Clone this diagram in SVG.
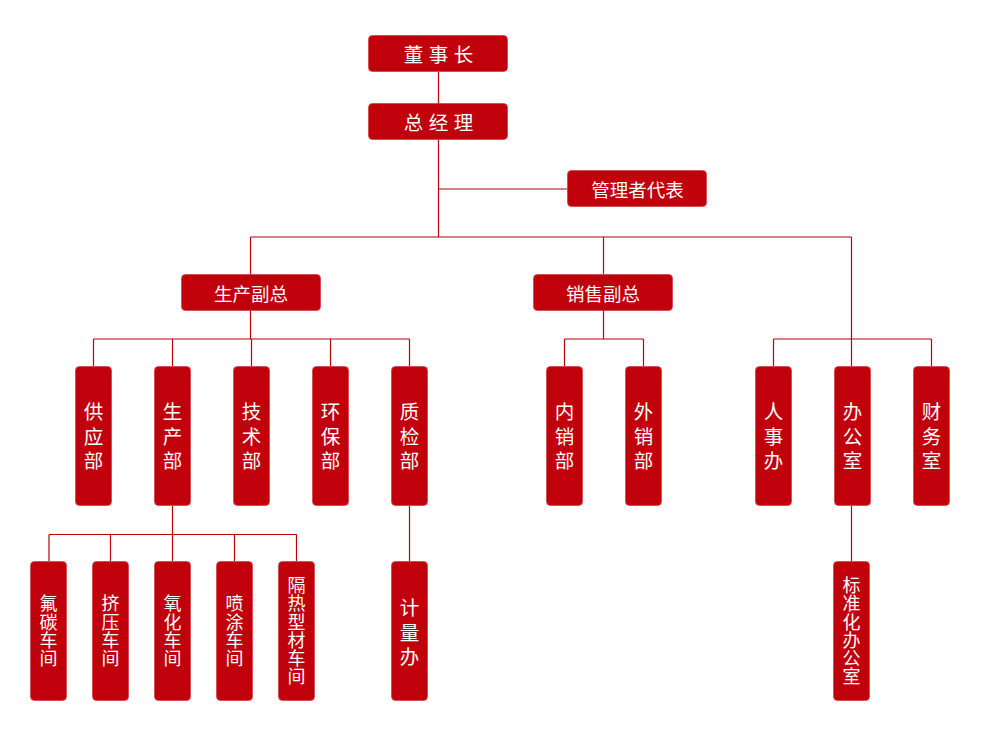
<svg xmlns="http://www.w3.org/2000/svg" width="1000" height="751" viewBox="0 0 1000 751">
<style>
.box{fill:#C0000A;stroke:#D2424B;stroke-width:0.8}
.ln{fill:none;stroke:#B8000F;stroke-width:1.2}
.t{fill:#fff;font-family:"Microsoft YaHei","Noto Sans CJK SC",sans-serif;text-anchor:middle;dominant-baseline:central}
.h{font-size:18.5px}
.top{font-size:19.5px;letter-spacing:5.5px}
.v{font-size:19.5px;letter-spacing:5px;writing-mode:vertical-rl}
.s{font-size:18px;letter-spacing:0.3px;writing-mode:vertical-rl}
</style>
<rect width="1000" height="751" fill="#fff"/>
<g id="connectors" class="ln">
<path d="M438.5 72V237M438.5 189H567M250.5 237H851.5M250.5 237V274M603.5 237V274M851.5 237V366"/>
<path d="M250.5 310V339M93.5 339H409.5M93.5 339V366M172.5 339V366M251.5 339V366M330.5 339V366M409.5 339V366"/>
<path d="M603.5 310V339M564.5 339H643.5M564.5 339V366M643.5 339V366"/>
<path d="M773.5 339H931.5M773.5 339V366M931.5 339V366"/>
<path d="M172.5 506V561M49 534.5H296.5M49 534.5V561M110.5 534.5V561M234.5 534.5V561M296.5 534.5V561"/>
<path d="M409.5 506V561M851.5 506V561"/>
</g>
<g id="n-dsz"><rect class="box" x="368.5" y="35.5" width="139" height="36" rx="4"/><text class="t top" x="441.25" y="53.5">董事长</text></g>
<g id="n-zjl"><rect class="box" x="368.5" y="103.5" width="139" height="36" rx="4"/><text class="t top" x="441.25" y="121.5">总经理</text></g>
<g id="n-glzdb"><rect class="box" x="567.5" y="170.5" width="139" height="36" rx="4"/><text class="t h" x="637.5" y="188.5">管理者代表</text></g>
<g id="n-scfz"><rect class="box" x="181.5" y="274.5" width="139" height="36" rx="4"/><text class="t h" x="251" y="292.5">生产副总</text></g>
<g id="n-xsfz"><rect class="box" x="533.5" y="274.5" width="139" height="36" rx="4"/><text class="t h" x="603" y="292.5">销售副总</text></g>

<g id="n-gyb"><rect class="box" x="75.5" y="366.5" width="36" height="139" rx="4"/><text class="t v" x="93.5" y="439">供应部</text></g>
<g id="n-scb"><rect class="box" x="154.5" y="366.5" width="36" height="139" rx="4"/><text class="t v" x="172.5" y="439">生产部</text></g>
<g id="n-jsb"><rect class="box" x="233.5" y="366.5" width="36" height="139" rx="4"/><text class="t v" x="251.5" y="439">技术部</text></g>
<g id="n-hbb"><rect class="box" x="312.5" y="366.5" width="36" height="139" rx="4"/><text class="t v" x="330.5" y="439">环保部</text></g>
<g id="n-zjb"><rect class="box" x="391.5" y="366.5" width="36" height="139" rx="4"/><text class="t v" x="409.5" y="439">质检部</text></g>
<g id="n-nxb"><rect class="box" x="546.5" y="366.5" width="36" height="139" rx="4"/><text class="t v" x="564.5" y="439">内销部</text></g>
<g id="n-wxb"><rect class="box" x="625.5" y="366.5" width="36" height="139" rx="4"/><text class="t v" x="643.5" y="439">外销部</text></g>
<g id="n-rsb"><rect class="box" x="755.5" y="366.5" width="36" height="139" rx="4"/><text class="t v" x="773.5" y="439">人事办</text></g>
<g id="n-bgs"><rect class="box" x="834.5" y="366.5" width="36" height="139" rx="4"/><text class="t v" x="852.5" y="439">办公室</text></g>
<g id="n-cws"><rect class="box" x="913.5" y="366.5" width="36" height="139" rx="4"/><text class="t v" x="931.5" y="439">财务室</text></g>

<g id="n-ftcj"><rect class="box" x="30.5" y="561.5" width="36" height="139" rx="4"/><text class="t s" x="48.5" y="631">氟碳车间</text></g>
<g id="n-jycj"><rect class="box" x="92.5" y="561.5" width="36" height="139" rx="4"/><text class="t s" x="110.5" y="631">挤压车间</text></g>
<g id="n-yhcj"><rect class="box" x="154.5" y="561.5" width="36" height="139" rx="4"/><text class="t s" x="172.5" y="631">氧化车间</text></g>
<g id="n-ptcj"><rect class="box" x="216.5" y="561.5" width="36" height="139" rx="4"/><text class="t s" x="234.5" y="631">喷涂车间</text></g>
<g id="n-grxc"><rect class="box" x="278.5" y="561.5" width="36" height="139" rx="4"/><text class="t s" x="296.5" y="631">隔热型材车间</text></g>
<g id="n-jlb"><rect class="box" x="391.5" y="561.5" width="36" height="139" rx="4"/><text class="t v" x="409.5" y="635">计量办</text></g>
<g id="n-bzh"><rect class="box" x="833.5" y="561.5" width="36" height="139" rx="4"/><text class="t s" x="851.5" y="631">标准化办公室</text></g>
</svg>
